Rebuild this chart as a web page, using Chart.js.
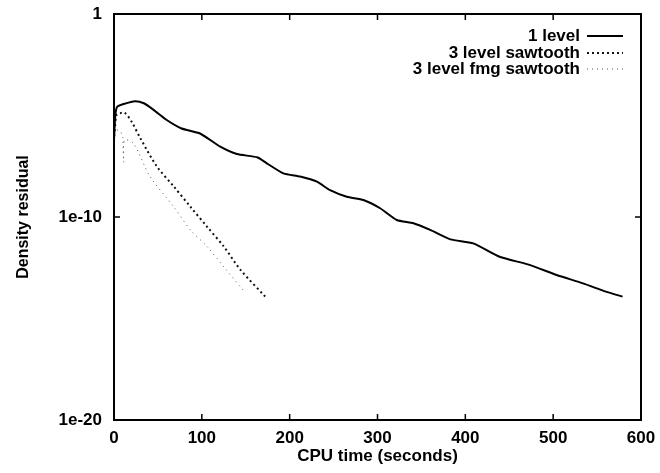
<!DOCTYPE html>
<html>
<head>
<meta charset="utf-8">
<script src="https://cdn.jsdelivr.net/npm/chart.js@4.4.0/dist/chart.umd.min.js"></script>
<style>
  html, body { margin: 0; padding: 0; background: #fff; }
  #wrap { width: 660px; height: 473px; position: relative; }
</style>
</head>
<body>
<div id="wrap"><canvas id="myChart"></canvas></div>
<script>
// values (x = CPU seconds, y = residual)
let one_level_x = [0, 1.5, 3.6, 11, 24, 34, 45, 60, 77, 98, 121, 140, 163, 174, 193, 212, 231, 246, 265, 284, 303, 322, 341, 360, 383, 409, 439, 473, 504, 534, 560, 579];
let one_level_y = [6.3e-7, 1e-5, 2.7e-5, 3.7e-5, 5.1e-5, 4e-5, 1.9e-5, 6e-6, 2.3e-6, 1.3e-6, 2.9e-7, 1.26e-7, 8.7e-8, 4.4e-8, 1.4e-8, 9.8e-9, 5.5e-9, 2.1e-9, 1e-9, 6.9e-10, 2.7e-10, 7.1e-11, 4.9e-11, 2.3e-11, 7.9e-12, 5e-12, 1.1e-12, 4.4e-13, 1.4e-13, 5.4e-14, 2.1e-14, 1.2e-14];

let sawtooth_x = [0, 3, 7, 12, 20, 30, 49, 68, 87, 106, 125, 144, 173];
let sawtooth_y = [1e-6, 1.1e-5, 1.3e-5, 1.4e-5, 5e-6, 7.6e-7, 3e-8, 3.2e-9, 3.2e-10, 3.3e-11, 3.5e-12, 2.5e-13, 1.1e-14];

let fmg_x = [0, 2, 5, 9, 10, 11, 12, 22, 41, 68, 87, 106, 125, 147];
let fmg_y = [1e-7, 3.2e-6, 1.6e-6, 1.3e-6, 8e-7, 5e-8, 6e-7, 4.3e-7, 1e-8, 3.2e-10, 2.3e-11, 3.5e-12, 3.5e-13, 2.5e-14];

let x_ticks = [0, 100, 200, 300, 400, 500, 600];
let y_ticks = [1e-20, 1e-10, 1];
let y_tick_labels = ["1e-20", "1e-10", "1"];

let legend_labels = ["1 level", "3 level sawtooth", "3 level fmg sawtooth"];

const font_family = "'Liberation Sans', Arial, Helvetica, sans-serif";

function toPoints (xs, ys) {
  let pts = [];
  for(let i = 0; i < xs.length; i++){
    pts.push({x: xs[i], y: ys[i]});
  }
  return pts;
}

// gnuplot style: ticks point inwards and are mirrored on top / right
const inwardTicks = {
  id: 'inwardTicks',
  afterDatasetsDraw (chart) {
    const ctx = chart.ctx;
    const a = chart.chartArea;
    const xs = chart.scales.x;
    const ys = chart.scales.y;
    ctx.save();
    ctx.strokeStyle = '#000';
    ctx.lineWidth = 1.5;
    ctx.beginPath();
    x_ticks.forEach(function (v) {
      let px = xs.getPixelForValue(v);
      ctx.moveTo(px, a.bottom); ctx.lineTo(px, a.bottom - 6);
      ctx.moveTo(px, a.top); ctx.lineTo(px, a.top + 6);
    });
    y_ticks.forEach(function (v) {
      let py = ys.getPixelForValue(v);
      ctx.moveTo(a.left, py); ctx.lineTo(a.left + 6, py);
      ctx.moveTo(a.right, py); ctx.lineTo(a.right - 6, py);
    });
    ctx.stroke();
    ctx.lineWidth = 2;
    ctx.strokeRect(a.left, a.top, a.right - a.left, a.bottom - a.top);
    ctx.restore();
  }
};

// legend: right aligned text with the line sample to its right
const keyBox = {
  id: 'keyBox',
  afterDraw (chart) {
    const ctx = chart.ctx;
    ctx.save();
    ctx.font = "bold 17px " + font_family;
    ctx.fillStyle = '#000';
    ctx.textAlign = 'right';
    ctx.textBaseline = 'middle';
    let text_right = 580;
    let row_y = [36, 53, 69];
    chart.data.datasets.forEach(function (ds, i) {
      ctx.fillText(legend_labels[i], text_right, row_y[i]);
      ctx.beginPath();
      ctx.strokeStyle = ds.borderColor;
      ctx.lineWidth = ds.borderWidth;
      ctx.setLineDash(ds.borderDash || []);
      ctx.moveTo(587, row_y[i]);
      ctx.lineTo(623, row_y[i]);
      ctx.stroke();
    });
    ctx.restore();
  }
};

const data = {
  datasets: [
    {
      label: legend_labels[0],
      data: toPoints(one_level_x, one_level_y),
      borderColor: '#000',
      borderWidth: 2,
      pointRadius: 0,
      tension: 0.2,
    },
    {
      label: legend_labels[1],
      data: toPoints(sawtooth_x, sawtooth_y),
      borderColor: '#111',
      borderWidth: 2,
      borderDash: [2, 3],
      pointRadius: 0,
      tension: 0.3,
    },
    {
      label: legend_labels[2],
      data: toPoints(fmg_x, fmg_y),
      borderColor: '#555',
      borderWidth: 1,
      borderDash: [1, 4],
      pointRadius: 0,
      tension: 0.3,
    },
  ]
};

const config = {
  type: 'line',
  data: data,
  options: {
    responsive: true,
    maintainAspectRatio: false,
    animation: false,
    layout: { padding: { top: 14, right: 19, left: 0, bottom: 6 } },
    plugins: {
      legend: { display: false },
      tooltip: { enabled: false }
    },
    scales: {
      x: {
        type: 'linear',
        min: 0,
        max: 600,
        afterBuildTicks: function (scale) {
          scale.ticks = x_ticks.map(function (v) { return {value: v}; });
        },
        afterFit: function (scale) {
          scale.height = 47;
          scale.paddingLeft = 0;
          scale.paddingRight = 0;
        },
        grid: { display: false, drawTicks: false },
        border: { display: false },
        ticks: {
          color: '#000',
          padding: 8,
          maxRotation: 0,
          font: { family: font_family, size: 17, weight: 'bold' }
        },
        title: {
          display: true,
          text: 'CPU time (seconds)',
          color: '#000',
          padding: { top: 0, bottom: 0 },
          font: { family: font_family, size: 17, weight: 'bold' }
        }
      },
      y: {
        type: 'logarithmic',
        min: 1e-20,
        max: 1,
        afterBuildTicks: function (scale) {
          scale.ticks = y_ticks.map(function (v) { return {value: v}; });
        },
        afterFit: function (scale) {
          scale.width = 114;
          scale.paddingTop = 0;
          scale.paddingBottom = 0;
        },
        grid: { display: false, drawTicks: false },
        border: { display: false },
        ticks: {
          color: '#000',
          padding: 12,
          font: { family: font_family, size: 17, weight: 'bold' },
          callback: function (value) {
            let i = y_ticks.indexOf(value);
            return i >= 0 ? y_tick_labels[i] : '';
          }
        },
        title: {
          display: true,
          text: 'Density residual',
          color: '#000',
          padding: { top: 14, bottom: 0 },
          font: { family: font_family, size: 16, weight: 'bold' }
        }
      }
    }
  },
  plugins: [inwardTicks, keyBox]
};

let myChart = new Chart(
  document.getElementById('myChart'),
  config
);
</script>
</body>
</html>
